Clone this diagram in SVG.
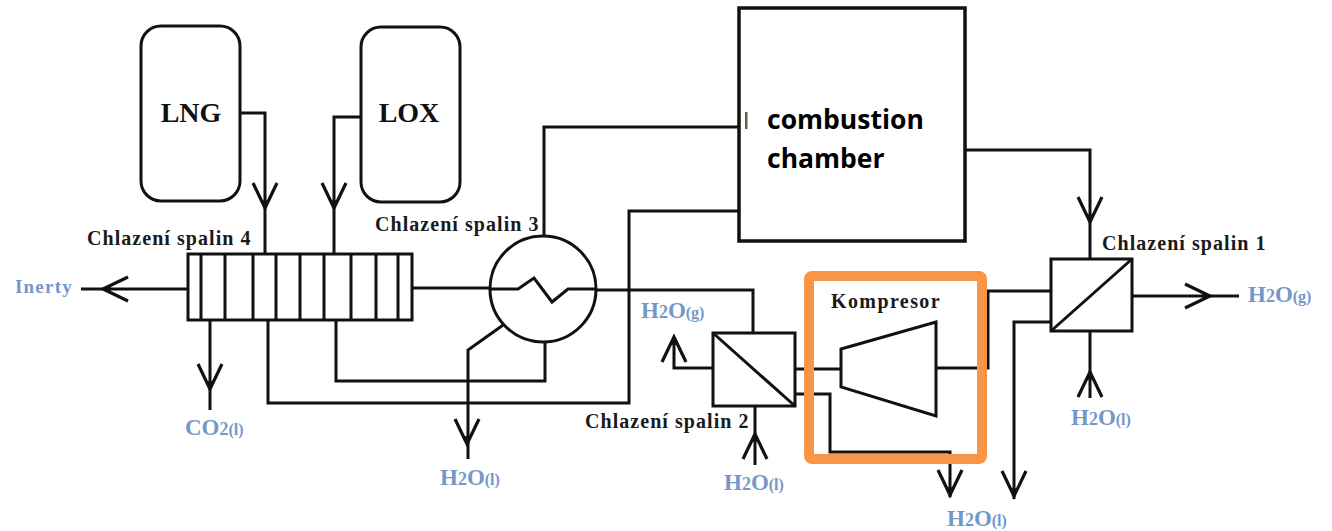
<svg xmlns="http://www.w3.org/2000/svg" width="1332" height="531" viewBox="0 0 1332 531">
<style>
.l{fill:none;stroke:#111;stroke-width:3;stroke-linejoin:miter}
.b{fill:#fff;stroke:#111;stroke-width:3}
.lab{font-family:"Liberation Serif",serif;font-weight:bold;font-size:20px;letter-spacing:1.05px;fill:#1a1a1a}
.tank{font-family:"Liberation Serif",serif;font-weight:bold;font-size:28px;fill:#111}
.blue{font-family:"Liberation Serif",serif;font-weight:bold;font-size:23px;fill:#7398c8}
.blue .s{font-size:16px}
.blue .m{font-size:18px}
.cc{font-family:"Open Sans","Liberation Sans",sans-serif;font-weight:bold;font-size:26.5px;fill:#000}
</style>
<defs>
<path id="ah" d="M-12,-25 L0,0 L12,-25 M0,0 V-8" fill="none" stroke="#111" stroke-width="3.2"/>
</defs>
<g id="connectors">
<path class="l" d="M241,113H265V254"/>
<path class="l" d="M361,117H334V254"/>
<path class="l" d="M187,289H81"/>
<path class="l" d="M210,320V410"/>
<path class="l" d="M268,321V403H629V211H739"/>
<path class="l" d="M336,321V381H545V338"/>
<path class="l" d="M412,288H490"/>
<path class="l" d="M596,290H753V333"/>
<path class="l" d="M544,240V127H739"/>
<path class="l" d="M513,318L468,350V459"/>
<path class="l" d="M713,368H674V337"/>
<path class="l" d="M755,406V465"/>
<path class="l" d="M795,369H841"/>
<path class="l" d="M795,394H830V452H950V497"/>
<path class="l" d="M936,368H988V291H1051"/>
<path class="l" d="M1051,322H1014V499"/>
<path class="l" d="M966,150H1090V259"/>
<path class="l" d="M1132,296H1239"/>
<path class="l" d="M1090,331V398"/>
<use href="#ah" transform="translate(265,208)"/>
<use href="#ah" transform="translate(334,208)"/>
<use href="#ah" transform="translate(103,289) rotate(90)"/>
<use href="#ah" transform="translate(210,389)"/>
<use href="#ah" transform="translate(467,444)"/>
<use href="#ah" transform="translate(674,337) rotate(180)"/>
<use href="#ah" transform="translate(755,434) rotate(180)"/>
<use href="#ah" transform="translate(950,495)"/>
<use href="#ah" transform="translate(1014,496)"/>
<use href="#ah" transform="translate(1090,222)"/>
<use href="#ah" transform="translate(1210,296) rotate(-90)"/>
<use href="#ah" transform="translate(1090,372) rotate(180)"/>
</g>
<g id="lng"><rect class="b" x="141" y="26" width="99" height="175" rx="20"/><text class="tank" x="191" y="122" text-anchor="middle">LNG</text></g>
<g id="lox"><rect class="b" x="361" y="27" width="99" height="175" rx="20"/><text class="tank" x="409" y="122" text-anchor="middle">LOX</text></g>
<g id="chamber"><rect class="b" x="739" y="8" width="226" height="233" style="stroke-width:3.5"/><rect x="745" y="112" width="2.5" height="17" fill="#6b5a48"/><text class="cc"><tspan x="767" y="129">combustion</tspan><tspan x="767" y="168">chamber</tspan></text></g>
<g id="hx4"><rect class="b" x="188" y="254" width="224" height="66"/>
<path class="l" d="M201,254V320M225,254V320M253,254V320M276,254V320M300,254V320M324,254V320M351,254V320M376,254V320M398,254V320"/>
<text class="lab" x="87" y="245">Chlazení spalin 4</text></g>
<g id="hx3"><circle class="b" cx="543" cy="289" r="53"/><path class="l" d="M490,289H518L534,278L552,302L568,289H596"/>
<text class="lab" x="375" y="231">Chlazení spalin 3</text></g>
<g id="hx2"><rect class="b" x="713" y="333" width="82" height="73"/><path class="l" d="M713,333L795,406"/>
<text class="lab" x="585" y="428">Chlazení spalin 2</text></g>
<g id="hx1"><rect class="b" x="1051" y="259" width="81" height="72"/><path class="l" d="M1051,331L1132,259"/>
<text class="lab" x="1102" y="250">Chlazení spalin 1</text></g>
<g id="kompresor"><path class="b" d="M841,349L936,322V416L841,387Z"/><text class="lab" x="831" y="308" style="letter-spacing:1.4px">Kompresor</text></g>
<g id="highlight"><rect x="809" y="276" width="173" height="183" rx="3" fill="none" stroke="#f79646" stroke-width="10"/></g>
<g id="labels">
<text class="blue" x="15" y="293" style="font-size:19px;letter-spacing:1.2px">Inerty</text>
<text class="blue" x="185" y="435">CO<tspan class="m">2</tspan><tspan class="s">(l)</tspan></text>
<text class="blue" x="440" y="485">H<tspan class="m">2</tspan>O<tspan class="s">(l)</tspan></text>
<text class="blue" x="641" y="318">H<tspan class="m">2</tspan>O<tspan class="s">(g)</tspan></text>
<text class="blue" x="724" y="490">H<tspan class="m">2</tspan>O<tspan class="s">(l)</tspan></text>
<text class="blue" x="947" y="526">H<tspan class="m">2</tspan>O<tspan class="s">(l)</tspan></text>
<text class="blue" x="1071" y="425">H<tspan class="m">2</tspan>O<tspan class="s">(l)</tspan></text>
<text class="blue" x="1248" y="302">H<tspan class="m">2</tspan>O<tspan class="s">(g)</tspan></text>
</g>
</svg>
